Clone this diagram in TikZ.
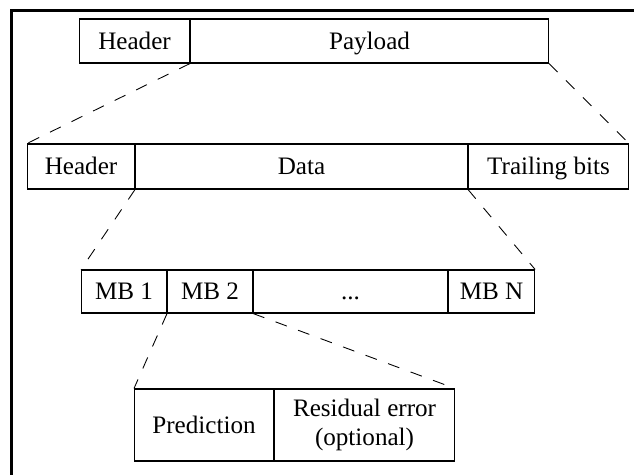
\documentclass[tikz,border=0pt]{standalone}
\usepackage{fontspec}
\setmainfont{Liberation Serif}
\usetikzlibrary{positioning}

\tikzset{
  field/.style={draw, line width=0.6pt, inner sep=0pt, minimum height=0.88cm},
  cell/.style={field, text height=11pt, text depth=1.6pt},
  zoomline/.style={dashed, line width=0.5pt, dash pattern=on 0.24cm off 0.24cm}
}

\begin{document}
\begin{tikzpicture}[x=0.02cm, y=-0.02cm, node distance=0pt,
  every node/.style={font=\fontsize{14.3}{16.2}\selectfont}]

\useasboundingbox (0,0) rectangle (634,475);
\draw[line width=2pt] (640,10.7) -- (11.3,10.7) -- (11.3,480);

% packet
\node[cell, anchor=west, minimum width=2.2cm] (hdr1) at (79,41) {Header};
\node[cell, right=of hdr1, minimum width=7.16cm] (pay) {Payload};

% payload
\node[cell, anchor=west, minimum width=2.14cm, minimum height=0.9cm] (hdr2) at (27,166.5) {Header};
\node[cell, right=of hdr2, minimum width=6.64cm, minimum height=0.9cm] (data) {Data};
\node[cell, right=of data, minimum width=3.2cm, minimum height=0.9cm] (trail) {Trailing bits};

% macroblocks
\node[cell, anchor=west, minimum width=1.7cm, minimum height=0.86cm] (mb1) at (81,291.5) {MB 1};
\node[cell, right=of mb1, minimum width=1.7cm, minimum height=0.86cm] (mb2) {MB 2};
\node[cell, right=of mb2, minimum width=3.88cm, minimum height=0.86cm] (dots) {...};
\node[cell, right=of dots, minimum width=1.72cm, minimum height=0.86cm] (mbn) {MB N};

% one macroblock
\node[cell, anchor=west, minimum width=2.78cm, minimum height=1.44cm] (pred) at (134,425) {Prediction};
\node[field, right=of pred, minimum width=3.6cm, minimum height=1.44cm, align=center] (resid) {Residual error\\(optional)};

\draw[zoomline] (hdr1.south east) -- (hdr2.north west);
\draw[zoomline] (pay.south east) -- (trail.north east);
\draw[zoomline] (hdr2.south east) -- (mb1.north west);
\draw[zoomline] (data.south east) -- (mbn.north east);
\draw[zoomline] (mb1.south east) -- (pred.north west);
\draw[zoomline] (mb2.south east) -- (resid.north east);

\end{tikzpicture}
\end{document}
